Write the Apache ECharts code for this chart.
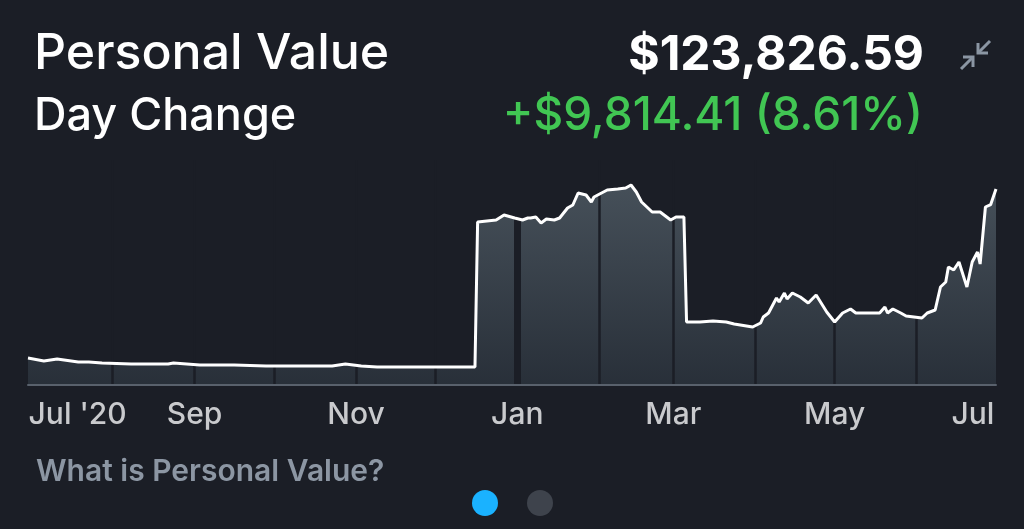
<!DOCTYPE html>
<html>
<head>
<meta charset="utf-8">
<script src="https://cdn.jsdelivr.net/npm/echarts@6/dist/echarts.min.js"></script>
<style>
  html, body { margin: 0; padding: 0; background: #1b1e26; }
  #chart { width: 1024px; height: 529px; }
</style>
</head>
<body>
<div id="chart"></div>
<script>
// portfolio value
const dates = [
  '2020-06-30', '2020-07-06', '2020-07-11', '2020-07-19', '2020-07-23', '2020-07-28',
  '2020-08-08', '2020-08-22', '2020-08-24', '2020-09-03', '2020-09-16', '2020-09-28',
  '2020-10-23', '2020-10-28', '2020-11-03', '2020-11-09', '2020-11-30', '2020-12-16',
  '2020-12-17', '2020-12-24', '2020-12-27', '2020-12-31', '2021-01-03', '2021-01-05',
  '2021-01-06', '2021-01-08', '2021-01-10', '2021-01-12', '2021-01-15', '2021-01-17',
  '2021-01-20', '2021-01-22', '2021-01-24', '2021-01-27', '2021-01-29', '2021-01-30',
  '2021-02-04', '2021-02-08', '2021-02-11', '2021-02-13', '2021-02-15', '2021-02-17',
  '2021-02-21', '2021-02-24', '2021-02-28', '2021-03-02', '2021-03-05', '2021-03-06',
  '2021-03-11', '2021-03-16', '2021-03-21', '2021-03-24', '2021-03-31', '2021-04-03',
  '2021-04-04', '2021-04-06', '2021-04-09', '2021-04-10', '2021-04-12', '2021-04-13',
  '2021-04-15', '2021-04-18', '2021-04-21', '2021-04-24', '2021-04-28', '2021-05-01',
  '2021-05-04', '2021-05-07', '2021-05-09', '2021-05-18', '2021-05-20', '2021-05-21',
  '2021-05-23', '2021-05-26', '2021-05-28', '2021-05-31', '2021-06-03', '2021-06-05',
  '2021-06-08', '2021-06-10', '2021-06-12', '2021-06-13', '2021-06-15', '2021-06-17',
  '2021-06-20', '2021-06-22', '2021-06-24', '2021-06-25', '2021-06-27', '2021-06-29',
  '2021-07-01'
]
const values = [
  17060, 15160, 16430, 14530, 14530, 13900,
  13270, 13270, 13900, 12640, 12640, 12000,
  12000, 13270, 12000, 11370, 11370, 11370,
  102980, 104240, 107400, 105500, 104240, 105500,
  105500, 106140, 102350, 104870, 104240, 105500,
  111820, 113720, 121300, 120040, 115610, 118770,
  123200, 123830, 124460, 126360, 121930, 115610,
  109300, 109300, 104240, 106140, 106140, 39800,
  39800, 40430, 39800, 38540, 36640, 39170,
  42960, 45490, 54960, 52440, 58120, 54330,
  58120, 55600, 51810, 56860, 46120, 39800,
  45490, 48020, 45490, 45490, 49280, 45490,
  48020, 45490, 43590, 42960, 42330, 45490,
  47380, 61910, 65070, 74550, 72650, 77710,
  61910, 77710, 84030, 76440, 112460, 114012.18,
  123826.59
]
const monthStarts = [
  '2020-08-01', '2020-09-01', '2020-10-01', '2020-11-01', '2020-12-01', '2021-01-01',
  '2021-02-01', '2021-03-01', '2021-04-01', '2021-05-01', '2021-06-01'
]
const tickDates = ['2020-07-01', '2020-09-01', '2020-11-01', '2021-01-01', '2021-03-01', '2021-05-01', '2021-07-01']
const tickLabels = ["Jul '20", 'Sep', 'Nov', 'Jan', 'Mar', 'May', 'Jul']
const totalValue = '$123,826.59'
const dayChange = '+$9,814.41 (8.61%)'

const BG = '#1b1e26'
const FONT = 'Inter'
const Y_MAX = 142150

const toTime = (s) => {
  const [y, m, d] = s.split('-').map(Number)
  return new Date(y, m - 1, d).getTime()
}
const points = dates.map((d, i) => [toTime(d), values[i]])
const tickTimes = tickDates.map(toTime)

const chart = echarts.init(document.getElementById('chart'))

const labelFont = { color: '#c9cacd', fontSize: 30, fontWeight: 500, fontFamily: FONT }

chart.setOption({
  backgroundColor: BG,
  animation: false,
  title: [
    { text: 'Personal Value', left: 34, top: 29, padding: 0,
      textStyle: { color: '#ffffff', fontSize: 50, fontWeight: 500, fontFamily: FONT } },
    { text: 'Day Change', left: 34, top: 94, padding: 0,
      textStyle: { color: '#ffffff', fontSize: 45, fontWeight: 500, fontFamily: FONT } },
    { text: totalValue, right: 100, top: 32, padding: 0,
      textStyle: { color: '#ffffff', fontSize: 48, fontWeight: 700, fontFamily: FONT } },
    { text: dayChange, right: 101, top: 93, padding: 0,
      textStyle: { color: '#41c653', fontSize: 46, fontWeight: 500, fontFamily: FONT } },
    { text: 'What is Personal Value?', left: 36, top: 457, padding: 0,
      textStyle: { color: '#8c96a3', fontSize: 30, fontWeight: 600, fontFamily: FONT } }
  ],
  grid: { left: 28, right: 28, top: 160, bottom: 144 },
  xAxis: {
    type: 'value',
    min: toTime('2020-06-30'),
    max: toTime('2021-07-01'),
    z: 6,
    axisLine: { lineStyle: { color: '#59616c', width: 2 } },
    axisTick: { show: false },
    splitLine: { show: false },
    axisLabel: Object.assign({
      customValues: tickTimes,
      margin: 15,
      formatter: (v) => {
        const i = tickTimes.indexOf(v)
        if (i === 0) return '{first|' + tickLabels[i] + '}'
        if (i === tickTimes.length - 1) return '{last|' + tickLabels[i] + '}'
        return i >= 0 ? tickLabels[i] : ''
      },
      rich: {
        first: Object.assign({ padding: [0, 0, 0, 94] }, labelFont),
        last: Object.assign({ padding: [0, 46, 0, 0] }, labelFont)
      }
    }, labelFont)
  },
  yAxis: { type: 'value', min: 0, max: Y_MAX, show: false, splitLine: { show: false } },
  series: [
    {
      name: 'fill',
      type: 'line',
      data: points,
      showSymbol: false,
      silent: true,
      z: 2,
      lineStyle: { width: 0, opacity: 0 },
      areaStyle: {
        color: new echarts.graphic.LinearGradient(0, 0, 0, 1, [
          { offset: 0, color: '#58656f' },
          { offset: 1, color: '#2e3741' }
        ])
      },
      markLine: {
        silent: true,
        symbol: 'none',
        label: { show: false },
        lineStyle: { color: BG, width: 2.5, type: 'solid' },
        data: monthStarts.map((d) => [
          { coord: [toTime(d), 0], lineStyle: { width: d === '2021-01-01' ? 7 : 2.5 } },
          { coord: [toTime(d), Y_MAX] }
        ])
      }
    },
    {
      name: 'Personal Value',
      type: 'line',
      data: points,
      showSymbol: false,
      z: 10,
      lineStyle: { color: '#ffffff', width: 3 }
    }
  ],
  graphic: [
    { type: 'polyline', shape: { points: [[990, 41], [979, 52]] }, style: { stroke: '#8b96a3', lineWidth: 3, fill: null } },
    { type: 'polyline', shape: { points: [[978, 43], [978, 53], [988, 53]] }, style: { stroke: '#8b96a3', lineWidth: 3, fill: null } },
    { type: 'polyline', shape: { points: [[961, 69], [972, 58]] }, style: { stroke: '#8b96a3', lineWidth: 3, fill: null } },
    { type: 'polyline', shape: { points: [[963, 57], [973, 57], [973, 67]] }, style: { stroke: '#8b96a3', lineWidth: 3, fill: null } },
    { type: 'circle', shape: { cx: 485, cy: 503, r: 13 }, style: { fill: '#1ab2ff' } },
    { type: 'circle', shape: { cx: 540, cy: 503, r: 13 }, style: { fill: '#3e434c' } }
  ]
})

window.addEventListener('resize', () => chart.resize())
</script>
</body>
</html>
